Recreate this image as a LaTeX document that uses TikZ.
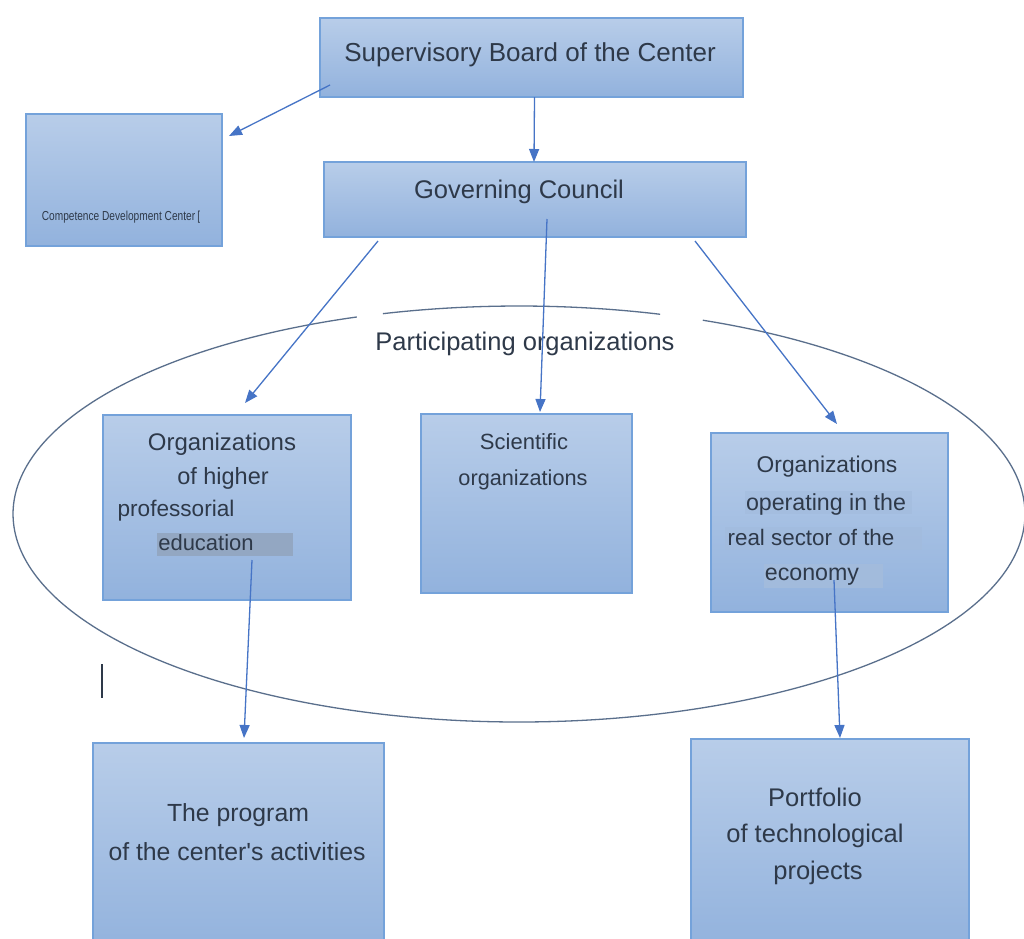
\documentclass[tikz,border=0pt]{standalone}
\usepackage{fontspec}
\setmainfont{Liberation Sans}[Ligatures=TeXOff]
\newfontfamily\narrowfont[FakeStretch=0.78]{Liberation Sans}
\usetikzlibrary{arrows.meta}
\definecolor{boxtop}{HTML}{B8CDE9}
\definecolor{boxbot}{HTML}{92B2DD}
\definecolor{boxline}{HTML}{74A2DA}
\definecolor{arrowblue}{HTML}{4674C6}
\definecolor{ringline}{HTML}{5A6F8C}
\definecolor{ink}{HTML}{2E3949}
\definecolor{markgray}{HTML}{93A7C2}
\definecolor{markblue}{HTML}{A2BBDC}
\newcommand\setfs[1]{\fontsize{#1}{#1}\selectfont}

\begin{document}
\begin{tikzpicture}[x=1pt,y=-1pt,
  panel/.style={draw=boxline, line width=1.1pt, top color=boxtop, bottom color=boxbot,
                inner sep=0pt, outer sep=0pt, anchor=north west},
  txt/.style={text=ink, inner sep=0pt, anchor=base},
  hilite/.style={inner sep=0pt, outer sep=0pt, anchor=north west},
  arr/.style={draw=arrowblue, line width=1.3pt, -{Triangle[length=13pt,width=10pt]}},
  ring/.style={draw=ringline, line width=1.3pt}]

\useasboundingbox (0,0) rectangle (1024,938);
\clip (0,0) rectangle (1024,938);
\fill[white] (0,0) rectangle (1024,938);

% participating organizations ring (with two small breaks on top)
\draw[ring] plot[domain=73.8:105.6, samples=60, smooth] ({519+506*cos(\x)},{514-208*sin(\x)});
\draw[ring] plot[domain=108.7:428.7, samples=300, smooth] ({519+506*cos(\x)},{514-208*sin(\x)});

% boxes
\node[panel, minimum width=423pt, minimum height=79pt] (sup) at (320,18) {};
\node[panel, minimum width=196pt, minimum height=132pt] (cdc) at (26,114) {};
\node[panel, minimum width=422pt, minimum height=75pt] (gov) at (324,162) {};
\node[panel, minimum width=248pt, minimum height=185pt] (high) at (103,415) {};
\node[panel, minimum width=211pt, minimum height=179pt] (sci) at (421,414) {};
\node[panel, minimum width=237pt, minimum height=179pt] (real) at (711,433) {};
\node[panel, minimum width=291pt, minimum height=210pt] (prog) at (93,743) {};
\node[panel, minimum width=278pt, minimum height=210pt] (port) at (691,739) {};

% text highlights
\node[hilite, fill=markgray, minimum width=136pt, minimum height=23pt] (hledu) at (157,533) {};
\node[hilite, fill=markblue, opacity=0.5, minimum width=167pt, minimum height=23pt] (hlop) at (745,491) {};
\node[hilite, fill=markblue, opacity=0.5, minimum width=197pt, minimum height=23pt] (hlreal) at (725,527) {};
\node[hilite, fill=markblue, minimum width=119pt, minimum height=24pt] (hleco) at (764,564) {};

% labels
\node[txt, font=\setfs{26}] (tsup) at (530,61) {Supervisory Board of the Center};
\node[txt, font=\narrowfont\setfs{13}] (tcdc) at (121,220) {Competence Development Center\,[};
\node[txt, font=\setfs{25.5}] (tgov) at (519,198) {Governing Council};
\node[txt, font=\setfs{25.5}] (tpart) at (525,350) {Participating organizations};

\node[txt, font=\setfs{24}] (th1) at (222,450) {Organizations};
\node[txt, font=\setfs{23.5}] (th2) at (223,484) {of higher};
\node[txt, font=\setfs{22.6}] (th3) at (176,516) {professorial};
\node[txt, font=\setfs{22}] (th4) at (206,550) {education};

\node[txt, font=\setfs{22}] (ts1) at (524,449) {Scientific};
\node[txt, font=\setfs{21.7}] (ts2) at (523,485) {organizations};

\node[txt, font=\setfs{22.8}] (tr1) at (827,472) {Organizations};
\node[txt, font=\setfs{23.2}] (tr2) at (826,510) {operating in the};
\node[txt, font=\setfs{22.4}] (tr3) at (811,545) {real sector of the};
\node[txt, font=\setfs{23.2}] (tr4) at (812,580) {economy};

\node[txt, font=\setfs{24.8}] (tp1) at (238,821) {The program};
\node[txt, font=\setfs{24.8}] (tp2) at (237,860) {of the center's activities};

\node[txt, font=\setfs{25.5}] (tf1) at (815,806) {Portfolio};
\node[txt, font=\setfs{25.5}] (tf2) at (815,842) {of technological};
\node[txt, font=\setfs{25.5}] (tf3) at (818,879) {projects};

% connector end points
\coordinate (supout) at (330,85);
\coordinate (cdcin) at (229,136);
\coordinate (govl) at (378,241);
\coordinate (highin) at (245,403);
\coordinate (govm) at (547,219);
\coordinate (sciin) at (540,412);
\coordinate (govr) at (695,241);
\coordinate (realin) at (837,424);
\coordinate (highout) at (252,560);
\coordinate (progin) at (244,738);
\coordinate (realout) at (834,580);
\coordinate (portin) at (840,738);

% connectors
\draw[arr] (supout) -- (cdcin);
\draw[arr] ([xshift=3pt]sup.south) -- ([xshift=-1pt]gov.north);
\draw[arr] (govl) -- (highin);
\draw[arr] (govm) -- (sciin);
\draw[arr] (govr) -- (realin);
\draw[arr] (highout) -- (progin);
\draw[arr] (realout) -- (portin);

% text cursor mark
\draw[ink, line width=1.6pt] (102,664) -- (102,698);
\end{tikzpicture}
\end{document}
